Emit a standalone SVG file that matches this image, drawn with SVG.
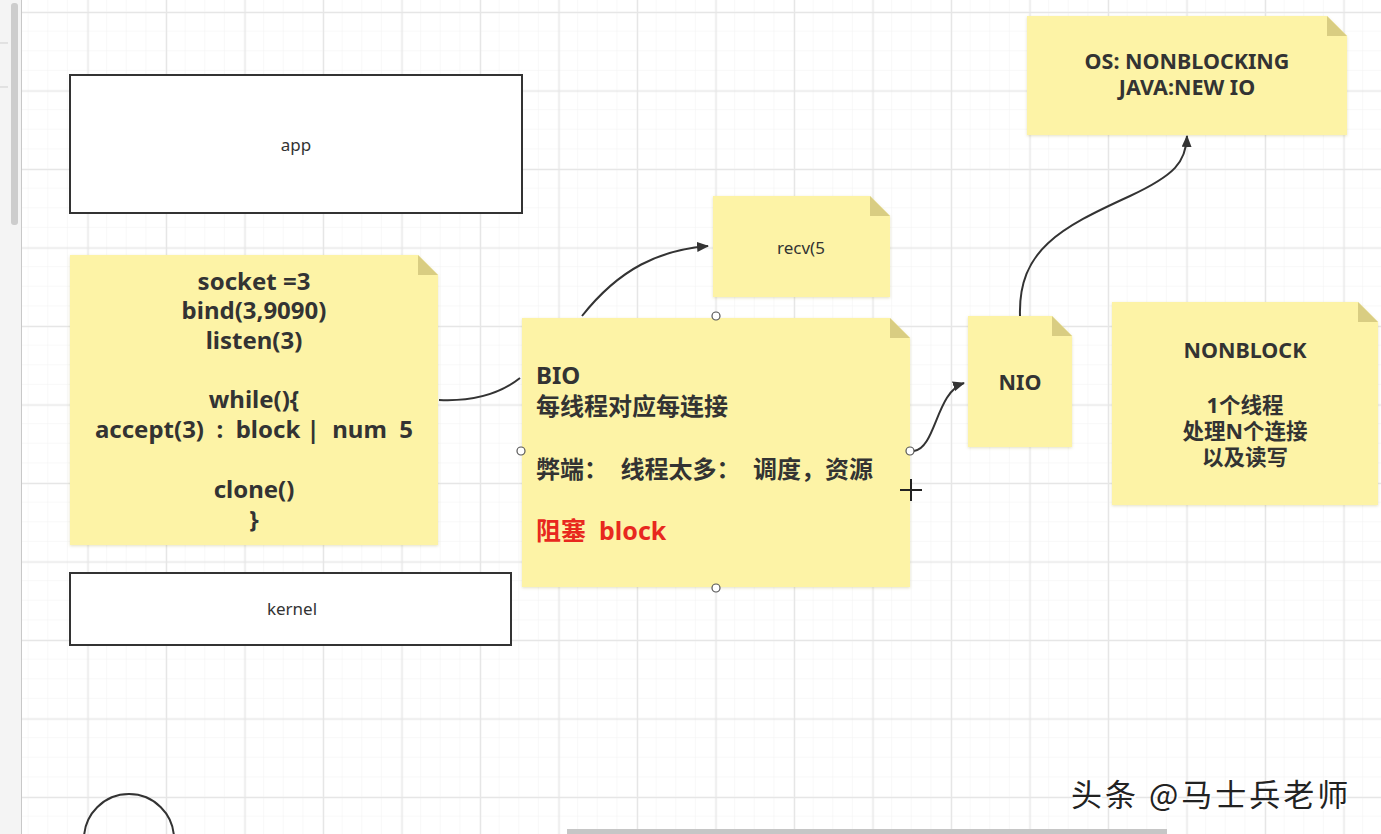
<svg xmlns="http://www.w3.org/2000/svg" width="1381" height="834" viewBox="0 0 1381 834">
<defs>
<pattern id="minor" x="9" y="12" width="19.625" height="19.625" patternUnits="userSpaceOnUse">
<path d="M19.625 0V19.625M0 19.625H19.625" fill="none" stroke="#f2f2f2" stroke-width="1"/>
</pattern>
<pattern id="major" x="9" y="12" width="78.5" height="78.5" patternUnits="userSpaceOnUse">
<path d="M0.5 0V78.5M0 0.5H78.5" fill="none" stroke="#e6e6e6" stroke-width="1.5"/>
</pattern>
<marker id="arr" viewBox="0 0 12 10" refX="11" refY="5" markerWidth="12" markerHeight="10" markerUnits="userSpaceOnUse" orient="auto">
<path d="M0 0L12 5L0 10Z" fill="#333"/>
</marker>
<filter id="sh" x="-5%" y="-5%" width="110%" height="115%">
<feDropShadow dx="0" dy="1" stdDeviation="1.5" flood-color="#b0a860" flood-opacity="0.35"/>
</filter>
</defs>
<style>
.box{fill:#fff;stroke:#333;stroke-width:2}
.note{fill:#fdf3a6;filter:url(#sh)}
.fold{fill:#d9cd82}
.t{font-family:"Noto Sans","Noto Sans CJK SC",sans-serif;fill:#333}
.s{font-size:17px;text-anchor:middle}
.b{font-size:24px;font-weight:bold;text-anchor:middle}
.m{font-size:21.5px;font-weight:bold;text-anchor:middle}
.bl{font-size:24px;font-weight:bold}
.red{fill:#e8281e}
.con{fill:none;stroke:#333;stroke-width:2}
.h{fill:#fff;stroke:#555;stroke-width:1.2}
</style>
<rect width="1381" height="834" fill="#fff"/>
<rect width="1381" height="834" fill="url(#minor)"/>
<rect width="1381" height="834" fill="url(#major)"/>
<g id="sidebar">
<rect x="0" y="0" width="21" height="834" fill="#f4f4f4"/>
<rect x="11" y="3" width="7" height="222" rx="3" fill="#cdcdcd"/>
<line x1="21.5" y1="0" x2="21.5" y2="834" stroke="#c8c8c8" stroke-width="1"/>
<line x1="0" y1="43" x2="8" y2="43" stroke="#cfcfcf"/>
<line x1="0" y1="87" x2="8" y2="87" stroke="#cfcfcf"/>
<rect x="567" y="829" width="600" height="5" fill="#c6c6c6"/>
</g>
<g id="app">
<rect class="box" x="70" y="75" width="452" height="138"/>
<text class="t s" x="296" y="151">app</text>
</g>
<g id="kernel">
<rect class="box" x="70" y="573" width="441" height="72"/>
<text class="t s" x="292" y="615">kernel</text>
</g>
<g id="code">
<path class="note" d="M70 255H418L438 275V545H70Z"/>
<path class="fold" d="M418 255L438 275H418Z"/>
<text class="t b" x="254" y="290">socket =3</text>
<text class="t b" x="254" y="319">bind(3,9090)</text>
<text class="t b" x="254" y="349">listen(3)</text>
<text class="t b" x="254" y="408">while(){</text>
<text class="t b" x="254" y="438" xml:space="preserve">accept(3)  :  block |  num  5</text>
<text class="t b" x="254" y="498">clone()</text>
<text class="t b" x="254" y="528">}</text>
</g>
<g id="recv">
<path class="note" d="M713 196H870L890 216V297H713Z"/>
<path class="fold" d="M870 196L890 216H870Z"/>
<text class="t s" x="801" y="254">recv(5</text>
</g>
<g id="bio">
<path class="note" d="M522 318H890L910 338V587H522Z"/>
<path class="fold" d="M890 318L910 338H890Z"/>
<text class="t bl" x="536" y="384">BIO</text>
<text class="t bl" x="536" y="415">每线程对应每连接</text>
<text class="t bl" x="536" y="478" xml:space="preserve">弊端：  线程太多：  调度，资源</text>
<text class="t bl red" x="536" y="540" style="font-size:25px" xml:space="preserve">阻塞  block</text>
</g>
<g id="nio">
<path class="note" d="M968 316H1052L1072 336V447H968Z"/>
<path class="fold" d="M1052 316L1072 336H1052Z"/>
<text class="t m" x="1020" y="390">NIO</text>
</g>
<g id="os">
<path class="note" d="M1027 16H1327L1347 36V135H1027Z"/>
<path class="fold" d="M1327 16L1347 36H1327Z"/>
<text class="t m" x="1187" y="69">OS: NONBLOCKING</text>
<text class="t m" x="1187" y="95">JAVA:NEW IO</text>
</g>
<g id="nonblock">
<path class="note" d="M1112 302H1358L1378 322V505H1112Z"/>
<path class="fold" d="M1358 302L1378 322H1358Z"/>
<text class="t m" x="1245" y="358">NONBLOCK</text>
<text class="t m" x="1245" y="413">1个线程</text>
<text class="t m" x="1245" y="439">处理N个连接</text>
<text class="t m" x="1245" y="465">以及读写</text>
</g>
<g id="connectors">
<path class="con" d="M439 400C482 402 505 390 520 378"/>
<path class="con" d="M582 316C620 268 660 250 708 246" marker-end="url(#arr)"/>
<path class="con" d="M914 451C936 448 936 392 964 383" marker-end="url(#arr)"/>
<path class="con" d="M1020 316C1018 250 1060 228 1130 196C1175 175 1186 162 1187 136" marker-end="url(#arr)"/>
</g>
<g id="handles">
<circle class="h" cx="716" cy="316" r="4"/>
<circle class="h" cx="521" cy="451" r="4"/>
<circle class="h" cx="910" cy="451" r="4"/>
<circle class="h" cx="716" cy="588" r="4"/>
<path d="M900 490H922M911 479V501" stroke="#222" stroke-width="2" fill="none"/>
</g>
<g id="circle">
<circle cx="129" cy="839" r="45" fill="none" stroke="#333" stroke-width="2"/>
</g>
<g id="watermark">
<text x="1071" y="806" font-family="Noto Sans CJK SC,sans-serif" font-size="31" letter-spacing="3" fill="#fff" transform="translate(1.5,1.5)">头条 @马士兵老师</text>
<text x="1071" y="806" font-family="Noto Sans CJK SC,sans-serif" font-size="31" letter-spacing="3" fill="#222">头条 @马士兵老师</text>
</g>
</svg>
